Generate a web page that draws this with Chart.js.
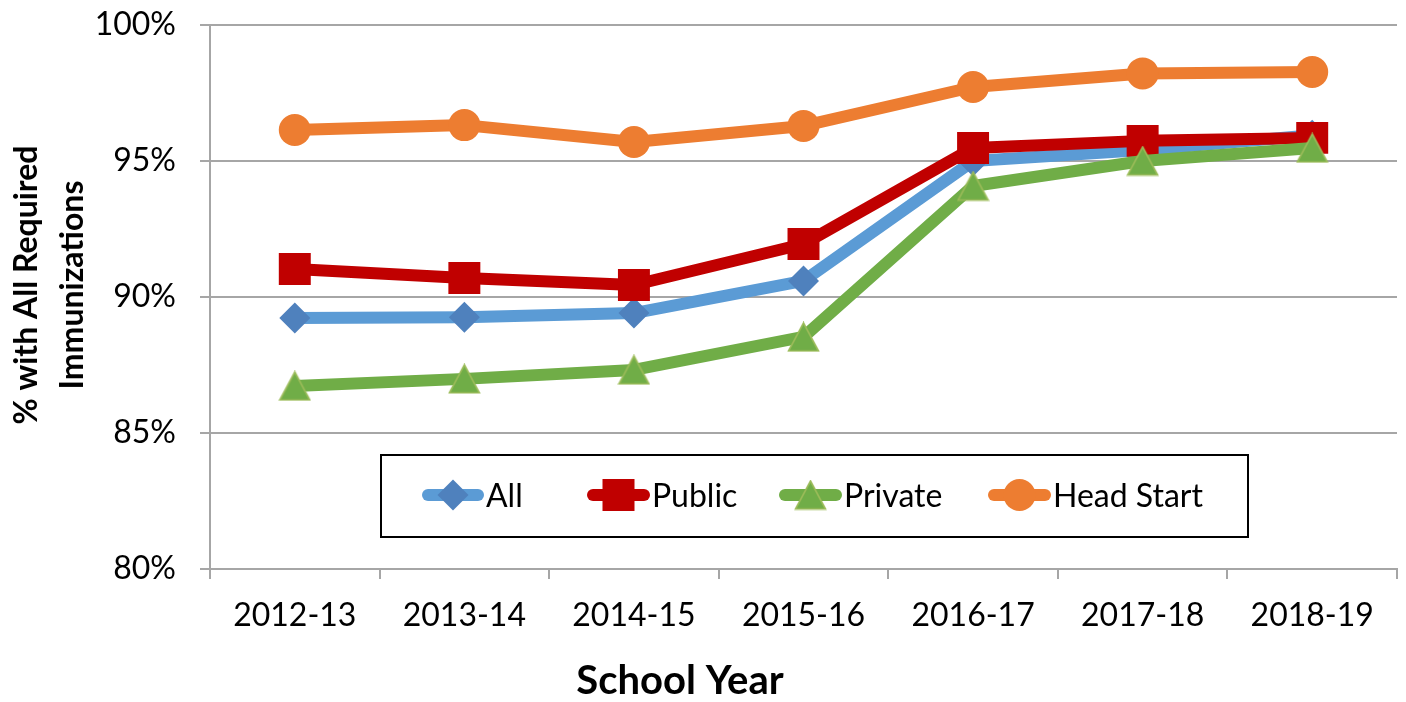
<!DOCTYPE html>
<html>
<head>
<meta charset="utf-8">
<script src="https://cdn.jsdelivr.net/npm/chart.js@4.4.1/dist/chart.umd.min.js"></script>
<style>
  html, body { margin: 0; padding: 0; background: #fff; }
  #wrap { width: 1406px; height: 702px; }
</style>
</head>
<body>
<div id="wrap"><canvas id="chart" width="1406" height="702"></canvas></div>
<script>
// data
const schoolYears = ["2012-13", "2013-14", "2014-15", "2015-16", "2016-17", "2017-18", "2018-19"];
const allSchools = [89.23, 89.26, 89.41, 90.59, 95.0, 95.4, 95.95];
const publicSchools = [91.03, 90.70, 90.44, 91.95, 95.48, 95.74, 95.85];
const privateSchools = [86.73, 86.99, 87.32, 88.53, 94.08, 95.0, 95.48];
const headStart = [96.14, 96.32, 95.70, 96.29, 97.72, 98.22, 98.27];
const seriesNames = ["All", "Public", "Private", "Head Start"];
const yMin = 80, yMax = 100, yStep = 5;

const FONT = "Lato, 'Open Sans', sans-serif";
const GRID = "#A6A6A6";

// triangle marker centred on its bounding box (like the spreadsheet one)
function makeTriangle(w, h, fill, stroke) {
  const c = document.createElement("canvas");
  c.width = w + 2; c.height = h + 2;
  const g = c.getContext("2d");
  g.beginPath();
  g.moveTo(c.width / 2, 1.5);
  g.lineTo(c.width - 1.5, c.height - 1.5);
  g.lineTo(1.5, c.height - 1.5);
  g.closePath();
  g.fillStyle = fill;
  g.fill();
  g.lineWidth = 1.6;
  g.strokeStyle = stroke;
  g.stroke();
  return c;
}
const triImg = makeTriangle(31, 29, "#70AD47", "#9BBB59");

const colors = {
  all: { line: "#5B9BD5", mark: "#4F81BD" },
  pub: { line: "#C00000", mark: "#C00000" },
  priv: { line: "#70AD47", mark: "#70AD47" },
  head: { line: "#ED7D31", mark: "#ED7D31" }
};

function drawMarker(ctx, kind, x, y) {
  ctx.save();
  if (kind === "diamond") {
    ctx.fillStyle = colors.all.mark;
    ctx.beginPath();
    ctx.moveTo(x, y - 15.5); ctx.lineTo(x + 15.5, y); ctx.lineTo(x, y + 15.5); ctx.lineTo(x - 15.5, y);
    ctx.closePath(); ctx.fill();
  } else if (kind === "square") {
    ctx.fillStyle = colors.pub.mark;
    ctx.fillRect(x - 16, y - 16, 32, 32);
  } else if (kind === "triangle") {
    ctx.drawImage(triImg, x - triImg.width / 2, y - triImg.height / 2);
  } else {
    ctx.fillStyle = colors.head.mark;
    ctx.beginPath(); ctx.arc(x, y, 16, 0, Math.PI * 2); ctx.fill();
  }
  ctx.restore();
}

const legendItems = [
  { name: seriesNames[0], color: colors.all.line, kind: "diamond", x1: 422, x2: 484 },
  { name: seriesNames[1], color: colors.pub.line, kind: "square", x1: 587, x2: 650 },
  { name: seriesNames[2], color: colors.priv.line, kind: "triangle", x1: 779, x2: 842 },
  { name: seriesNames[3], color: colors.head.line, kind: "circle", x1: 988, x2: 1051 }
];

const extras = {
  id: "extras",
  afterDraw(chart) {
    const ctx = chart.ctx;
    ctx.save();
    // legend box
    ctx.fillStyle = "#fff";
    ctx.fillRect(381, 455, 867, 82);
    ctx.lineWidth = 2;
    ctx.strokeStyle = "#000";
    ctx.strokeRect(381, 455, 867, 82);
    legendItems.forEach(it => {
      ctx.beginPath();
      ctx.lineWidth = 12;
      ctx.lineCap = "round";
      ctx.strokeStyle = it.color;
      ctx.moveTo(it.x1 + 6, 495);
      ctx.lineTo(it.x2 - 6, 495);
      ctx.stroke();
      drawMarker(ctx, it.kind, (it.x1 + it.x2) / 2, 495);
      ctx.fillStyle = "#000";
      ctx.font = "32px " + FONT;
      ctx.textAlign = "left";
      ctx.textBaseline = "alphabetic";
      ctx.fillText(it.name, it.x2 + 2, 507);
    });
    // axis titles
    ctx.fillStyle = "#000";
    ctx.font = "bold 40px " + FONT;
    ctx.textAlign = "center";
    ctx.textBaseline = "alphabetic";
    ctx.fillText("School Year", 680, 694);
    ctx.translate(0, 285);
    ctx.rotate(-Math.PI / 2);
    ctx.font = "bold 32px " + FONT;
    ctx.fillText("% with All Required", 0, 37);
    ctx.fillText("Immunizations", 0, 83);
    ctx.restore();
  }
};

function lineSet(label, data, c, style, radius, order) {
  return {
    label: label,
    data: data,
    borderColor: c.line,
    backgroundColor: c.mark,
    borderWidth: 12,
    borderJoinStyle: "round",
    borderCapStyle: "round",
    tension: 0,
    pointStyle: style,
    pointRadius: radius,
    pointHoverRadius: radius,
    pointBackgroundColor: c.mark,
    pointBorderColor: c.mark,
    pointBorderWidth: 0,
    order: order
  };
}

const chart = new Chart(document.getElementById("chart"), {
  type: "line",
  data: {
    labels: schoolYears,
    datasets: [
      lineSet(seriesNames[0], allSchools, colors.all, "rectRot", 15.5, 3),
      lineSet(seriesNames[1], publicSchools, colors.pub, "rect", 22.6, 2),
      lineSet(seriesNames[2], privateSchools, colors.priv, triImg, 16, 1),
      lineSet(seriesNames[3], headStart, colors.head, "circle", 16, 0)
    ]
  },
  options: {
    responsive: false,
    animation: false,
    devicePixelRatio: 1,
    layout: { autoPadding: false, padding: { top: 25, right: 9, left: 0, bottom: 0 } },
    plugins: { legend: { display: false }, tooltip: { enabled: false } },
    scales: {
      x: {
        offset: true,
        grid: { offset: true, drawOnChartArea: false, drawTicks: true, tickLength: 10, color: GRID, lineWidth: 2 },
        border: { color: GRID, width: 2 },
        ticks: { color: "#000", font: { family: FONT, size: 32 }, padding: 17, maxRotation: 0, autoSkip: false },
        afterFit: s => {
          s.height = 133;
          s.paddingLeft = 0; s.paddingRight = 0;
        }
      },
      y: {
        min: yMin,
        max: yMax,
        grid: { color: GRID, lineWidth: 2, drawTicks: true, tickLength: 10 },
        border: { color: GRID, width: 2 },
        ticks: {
          stepSize: yStep,
          color: "#000",
          font: { family: FONT, size: 32 },
          padding: 24,
          callback: v => v + "%"
        },
        afterFit: s => {
          s.width = 210;
          s.paddingTop = 0; s.paddingBottom = 0;
        }
      }
    }
  },
  plugins: [extras]
});
</script>
</body>
</html>
